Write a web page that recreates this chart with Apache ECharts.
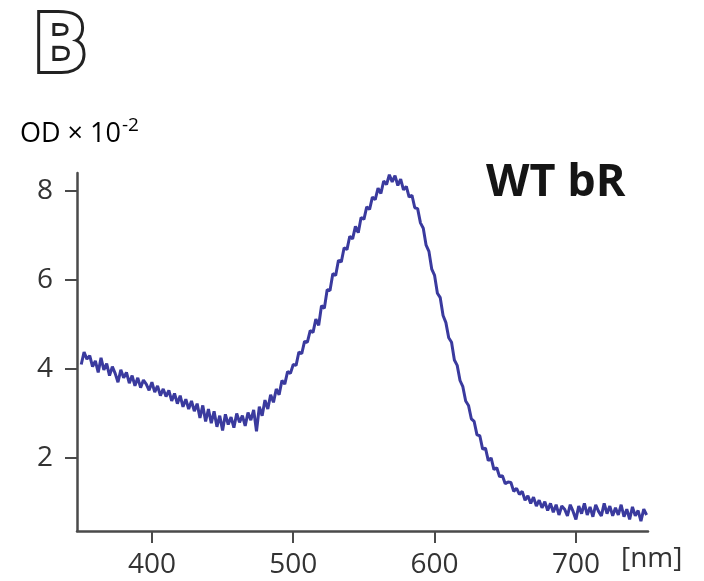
<!DOCTYPE html>
<html>
<head>
<meta charset="utf-8">
<script src="https://cdn.jsdelivr.net/npm/echarts@6/dist/echarts.min.js"></script>
<style>html,body{margin:0;padding:0;background:#fff}#c{width:704px;height:581px}</style>
</head>
<body>
<div id="c"></div>
<script>
const wavelengthStart = 350;
const wavelengthStep = 2;
const od = [
4.10,4.38,4.22,4.30,4.05,4.18,3.92,4.25,3.98,4.12,
3.85,4.05,3.90,3.70,3.98,3.80,3.92,3.68,3.85,3.62,
3.80,3.58,3.75,3.66,3.52,3.70,3.48,3.62,3.40,3.55,
3.38,3.52,3.28,3.45,3.22,3.40,3.15,3.32,3.10,3.28,
3.05,3.22,2.90,3.18,2.82,3.10,2.78,3.05,2.70,2.95,
2.62,2.98,2.75,2.92,2.68,3.00,2.80,2.95,2.72,3.02,
2.85,3.08,2.60,3.15,2.95,3.30,3.10,3.42,3.25,3.55,
3.42,3.74,3.66,3.94,3.90,4.10,4.08,4.38,4.34,4.62,
4.60,4.86,4.82,5.12,4.98,5.42,5.36,5.78,5.76,6.14,
6.10,6.44,6.40,6.72,6.68,6.98,6.92,7.20,7.06,7.40,
7.36,7.64,7.58,7.86,7.80,8.06,7.94,8.22,8.14,8.36,
8.20,8.34,8.12,8.26,8.02,8.10,7.86,7.90,7.62,7.60,
7.28,7.16,6.78,6.64,6.24,6.10,5.70,5.60,5.20,5.04,
4.70,4.60,4.20,4.08,3.74,3.60,3.28,3.18,2.88,2.82,
2.52,2.50,2.20,2.22,1.94,2.00,1.74,1.78,1.58,1.60,
1.42,1.46,1.45,1.25,1.32,1.18,1.25,1.05,1.15,0.98,
1.12,0.92,1.05,0.88,1.02,0.82,0.98,0.78,0.95,0.72,
0.92,0.85,0.70,0.95,0.80,0.62,0.92,0.75,0.98,0.72,
0.90,0.68,0.95,0.80,0.70,0.98,0.75,0.92,0.70,0.88,
0.72,0.95,0.68,0.85,0.62,0.90,0.70,0.82,0.58,0.85,
0.72
];
const xTicks = [400, 500, 600, 700];
const yTicks = [2, 4, 6, 8];
const xUnit = '[nm]';
const yUnit = 'OD × 10';
const yUnitExp = '-2';
const panelLetter = 'B';
const sampleLabel = 'WT bR';

const points = od.map((v, i) => [wavelengthStart + i * wavelengthStep, v]);

const chart = echarts.init(document.getElementById('c'), null, {renderer: 'canvas'});
const axisColor = '#4a4a4a';
const labelStyle = {color: '#333', fontSize: 28, fontFamily: 'Open Sans'};
chart.setOption({
  animation: false,
  backgroundColor: '#fff',
  grid: {left: 77, right: 56, top: 173, bottom: 50, containLabel: false},
  xAxis: {
    type: 'value', min: 347, max: 751,
    axisLine: {show: true, lineStyle: {color: axisColor, width: 2.5}},
    axisTick: {show: true, length: 12, lineStyle: {color: axisColor, width: 2}, customValues: xTicks},
    axisLabel: Object.assign({margin: 20, customValues: xTicks}, labelStyle),
    splitLine: {show: false}
  },
  yAxis: {
    type: 'value', min: 0.36, max: 8.4,
    axisLine: {show: true, lineStyle: {color: axisColor, width: 2.5}},
    axisTick: {show: true, length: 12, lineStyle: {color: axisColor, width: 2}, customValues: yTicks},
    axisLabel: Object.assign({margin: 24, customValues: yTicks}, labelStyle),
    splitLine: {show: false}
  },
  graphic: [
    {type: 'text', left: 30, top: 5, style: {text: panelLetter, fontSize: 80, fontFamily: 'Open Sans', fontWeight: 'bold', fill: '#fff', stroke: '#222', lineWidth: 6}},
    {type: 'text', left: 20, top: 116, style: {
      text: '{a|' + yUnit + '}{b|' + yUnitExp + '}',
      rich: {
        a: {fontSize: 27, fontFamily: 'Open Sans', color: '#333', verticalAlign: 'bottom'},
        b: {fontSize: 19, fontFamily: 'Open Sans', color: '#333', padding: [0, 0, 13, 1], verticalAlign: 'bottom'}
      }
    }},
    {type: 'text', left: 621, top: 545, style: {text: xUnit, fontSize: 28, fontFamily: 'Open Sans', fill: '#333'}},
    {type: 'text', left: 486, top: 161, style: {text: sampleLabel, fontSize: 45, fontWeight: 'bold', fontFamily: 'Open Sans', fill: '#151515'}}
  ],
  series: [{
    type: 'line', data: points, showSymbol: false, smooth: false,
    lineStyle: {color: '#3a3a9e', width: 3},
    clip: true
  }]
});
</script>
</body>
</html>
